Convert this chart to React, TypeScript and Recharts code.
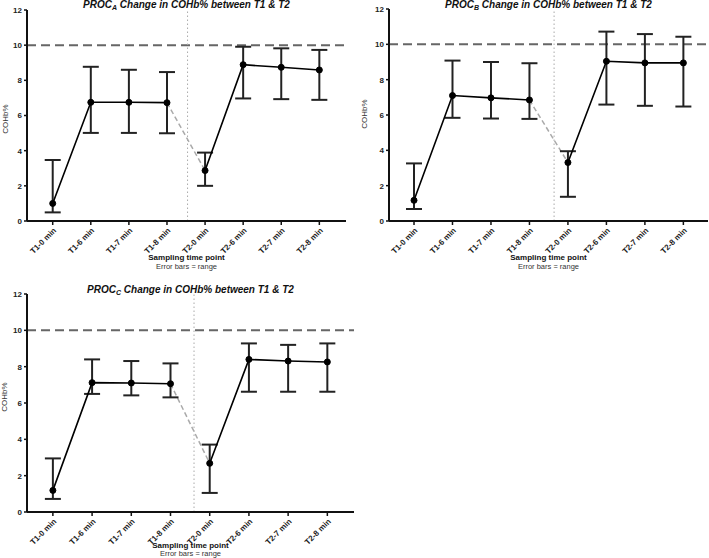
import React from 'react';
import { ComposedChart, Line, XAxis, YAxis, ReferenceLine, ErrorBar } from 'recharts';

const CATEGORIES = ['T1-0 min', 'T1-6 min', 'T1-7 min', 'T1-8 min', 'T2-0 min', 'T2-6 min', 'T2-7 min', 'T2-8 min'];
const Y_TICKS = [0, 2, 4, 6, 8, 10, 12];
const LIMIT = 10;

const A_MEAN = [1.0, 6.75, 6.75, 6.73, 2.87, 8.89, 8.74, 8.59];
const A_MIN = [0.49, 5.01, 5.01, 4.99, 2.0, 6.97, 6.93, 6.89];
const A_MAX = [3.47, 8.77, 8.6, 8.47, 3.89, 9.91, 9.82, 9.73];

const B_MEAN = [1.17, 7.1, 6.97, 6.85, 3.31, 9.04, 8.95, 8.95];
const B_MIN = [0.68, 5.84, 5.8, 5.78, 1.37, 6.59, 6.52, 6.48];
const B_MAX = [3.26, 9.08, 9.0, 8.93, 3.95, 10.72, 10.58, 10.43];

const C_MEAN = [1.19, 7.12, 7.1, 7.06, 2.68, 8.4, 8.31, 8.26];
const C_MIN = [0.72, 6.5, 6.42, 6.31, 1.05, 6.62, 6.62, 6.62];
const C_MAX = [2.95, 8.4, 8.31, 8.18, 3.71, 9.28, 9.2, 9.28];

const FONT = '"Liberation Sans", Arial, sans-serif';

function buildRows(mean: number[], min: number[], max: number[]) {
  return CATEGORIES.map((_, i) => {
    const err = [mean[i] - min[i], max[i] - mean[i]];
    return {
      x: i,
      t1: i < 4 ? mean[i] : null,
      t2: i >= 4 ? mean[i] : null,
      bridge: i === 3 || i === 4 ? mean[i] : null,
      e1: i < 4 ? err : null,
      e2: i >= 4 ? err : null,
    };
  });
}

type PanelProps = {
  letter: string;
  mean: number[];
  min: number[];
  max: number[];
  left: number; // plot left
  top: number; // plot top
  plotW: number;
  plotH: number;
  domain: [number, number];
  divider: number;
  titleY: number;
  xLabelY: number;
  noteY: number;
  yLabelX: number;
  yLabelY: number;
};

const Y_W = 27;
const X_H = 60;

function Panel(p: PanelProps) {
  const rows = buildRows(p.mean, p.min, p.max);
  const w = Y_W + p.plotW;
  const h = 10 + p.plotH + X_H;
  return (
    <>
      <div style={{ position: 'absolute', left: p.left - Y_W, top: p.top - 10 }}>
        <ComposedChart width={w} height={h} data={rows} margin={{ top: 10, right: 0, bottom: 0, left: 0 }}>
          <XAxis
            dataKey="x"
            type="number"
            domain={p.domain}
            ticks={[0, 1, 2, 3, 4, 5, 6, 7]}
            tickFormatter={(i: number) => CATEGORIES[i]}
            interval={0}
            angle={-45}
            textAnchor="end"
            height={X_H}
            tickSize={4}
            tick={{ fontSize: 8, fontWeight: 'bold', fill: '#222', fontFamily: FONT }}
            axisLine={{ stroke: '#111', strokeWidth: 2 }}
            tickLine={{ stroke: '#111', strokeWidth: 1.5 }}
            allowDataOverflow
          />
          <YAxis
            domain={[0, 12]}
            ticks={Y_TICKS}
            width={Y_W}
            tickSize={3}
            tick={{ fontSize: 8, fontWeight: 'bold', fill: '#222', fontFamily: FONT }}
            axisLine={{ stroke: '#111', strokeWidth: 2 }}
            tickLine={{ stroke: '#111', strokeWidth: 1.5 }}
          />
          <ReferenceLine y={LIMIT} stroke="#666" strokeWidth={2} strokeDasharray="9 5" />
          <ReferenceLine x={p.divider} stroke="#aaa" strokeWidth={1} strokeDasharray="1.5 2.5" />
          <Line
            dataKey="bridge"
            stroke="#aaa"
            strokeWidth={1.5}
            strokeDasharray="5 3"
            dot={false}
            isAnimationActive={false}
          />
          <Line
            dataKey="t1"
            stroke="#000"
            strokeWidth={1.6}
            dot={{ r: 3, fill: '#000', stroke: '#000', strokeWidth: 1 }}
            isAnimationActive={false}
          >
            <ErrorBar dataKey="e1" direction="y" width={8} stroke="#222" strokeWidth={2} />
          </Line>
          <Line
            dataKey="t2"
            stroke="#000"
            strokeWidth={1.6}
            dot={{ r: 3, fill: '#000', stroke: '#000', strokeWidth: 1 }}
            isAnimationActive={false}
          >
            <ErrorBar dataKey="e2" direction="y" width={8} stroke="#222" strokeWidth={2} />
          </Line>
        </ComposedChart>
      </div>
      <div
        style={{
          position: 'absolute',
          left: p.left,
          width: p.plotW,
          top: p.titleY - 7,
          textAlign: 'center',
          fontFamily: FONT,
          fontWeight: 'bold',
          fontStyle: 'italic',
          fontSize: 10,
          lineHeight: '14px',
          color: '#111',
          whiteSpace: 'nowrap',
        }}
      >
        PROC<sub style={{ fontSize: 7, verticalAlign: '-2px' }}>{p.letter}</sub> Change in COHb% between T1 &amp; T2
      </div>
      <div
        style={{
          position: 'absolute',
          left: p.left,
          width: p.plotW,
          top: p.xLabelY - 5,
          textAlign: 'center',
          fontFamily: FONT,
          fontWeight: 'bold',
          fontSize: 8,
          lineHeight: '10px',
          color: '#111',
        }}
      >
        Sampling time point
      </div>
      <div
        style={{
          position: 'absolute',
          left: p.left,
          width: p.plotW,
          top: p.noteY - 5,
          textAlign: 'center',
          fontFamily: FONT,
          fontSize: 7.5,
          lineHeight: '10px',
          color: '#333',
        }}
      >
        Error bars = range
      </div>
      <div
        style={{
          position: 'absolute',
          left: p.yLabelX - 20,
          top: p.yLabelY - 5,
          width: 40,
          textAlign: 'center',
          fontFamily: FONT,
          fontSize: 8,
          lineHeight: '10px',
          color: '#333',
          transform: 'rotate(-90deg)',
        }}
      >
        COHb%
      </div>
    </>
  );
}

export default function App() {
  return (
    <div style={{ position: 'absolute', left: 0, top: 0, width: 709, height: 558, background: '#fff', overflow: 'hidden' }}>
      <Panel
        letter="A"
        mean={A_MEAN}
        min={A_MIN}
        max={A_MAX}
        left={27}
        top={10}
        plotW={319}
        plotH={211}
        domain={[-0.675, 7.7]}
        divider={3.54}
        titleY={5}
        xLabelY={258}
        noteY={267}
        yLabelX={6}
        yLabelY={119}
      />
      <Panel
        letter="B"
        mean={B_MEAN}
        min={B_MIN}
        max={B_MAX}
        left={389}
        top={9}
        plotW={319}
        plotH={212}
        domain={[-0.65, 7.64]}
        divider={3.64}
        titleY={5}
        xLabelY={258}
        noteY={267}
        yLabelX={365}
        yLabelY={114}
      />
      <Panel
        letter="C"
        mean={C_MEAN}
        min={C_MIN}
        max={C_MAX}
        left={27}
        top={294}
        plotW={327}
        plotH={218}
        domain={[-0.66, 7.68]}
        divider={3.6}
        titleY={290}
        xLabelY={546}
        noteY={554}
        yLabelX={5}
        yLabelY={397}
      />
    </div>
  );
}
